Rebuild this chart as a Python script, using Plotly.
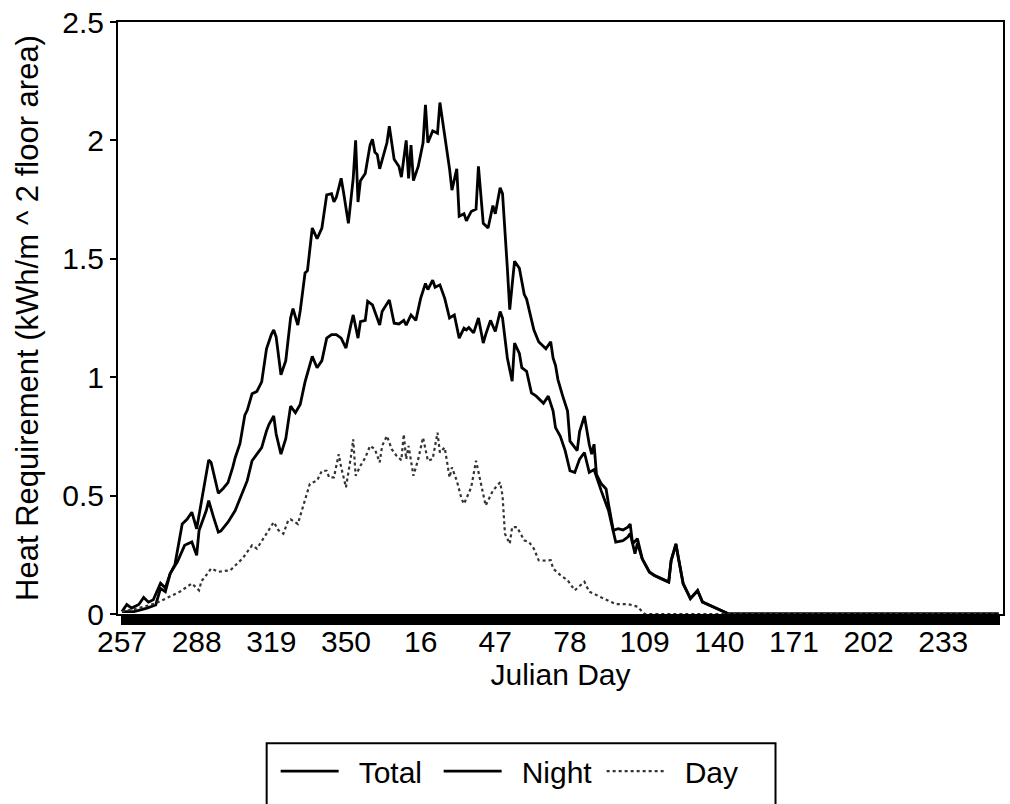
import plotly.graph_objects as go

# Julian day labels of the x axis (season starts on day 257)
julian_days = list(range(257, 366)) + list(range(1, 257))
tick_labels = ["257", "288", "319", "350", "16", "47", "78", "109", "140", "171", "202", "233"]

# Offsets are days after Julian day 257
total_offset = [0, 2, 4, 7, 9, 11, 13, 16, 18, 20, 22, 25, 27, 29, 31, 33, 36, 37, 40, 42, 44, 46, 47, 49,
                51, 52, 54, 56, 58, 60, 62, 63, 64, 66, 68, 70, 71, 73, 74, 76, 77, 79, 81, 83, 85, 87, 88,
                89, 91, 92, 94, 96, 97, 98, 99, 101, 103, 104, 105, 106, 107, 110, 111, 113, 115, 116, 118,
                119, 120, 121, 123, 125, 126, 127, 129, 130, 131, 132, 134, 136, 137, 139, 140, 142, 143,
                145, 147, 148, 150, 152, 154, 155, 157, 158, 160, 161, 162, 163, 165, 167, 168, 170, 171,
                173, 176, 178, 179, 180, 181, 183, 185, 186, 189, 190, 192, 194, 195, 196, 197, 199, 201,
                202, 204, 206, 208, 210, 211, 212, 214, 216, 219, 221, 224, 227, 228, 230, 231, 233, 236,
                239, 241, 244, 248, 252, 364]
total_values = [0.01, 0.04, 0.025, 0.04, 0.07, 0.05, 0.06, 0.13, 0.11, 0.17, 0.21, 0.38, 0.40, 0.43, 0.36,
                0.48, 0.65, 0.64, 0.51, 0.53, 0.555, 0.62, 0.66, 0.72, 0.84, 0.86, 0.93, 0.94, 0.98, 1.12,
                1.18, 1.20, 1.17, 1.01, 1.07, 1.25, 1.29, 1.22, 1.28, 1.44, 1.45, 1.63, 1.585, 1.63, 1.77,
                1.775, 1.74, 1.76, 1.84, 1.78, 1.65, 1.84, 2.00, 1.74, 1.83, 1.86, 1.98, 2.005, 1.95, 1.94,
                1.88, 1.99, 2.06, 1.92, 1.89, 1.845, 2.00, 1.84, 1.98, 1.83, 1.89, 1.99, 2.15, 1.99, 2.04,
                2.035, 2.03, 2.16, 2.03, 1.88, 1.79, 1.88, 1.68, 1.69, 1.66, 1.70, 1.71, 1.89, 1.65, 1.63,
                1.725, 1.69, 1.80, 1.775, 1.46, 1.285, 1.39, 1.49, 1.46, 1.35, 1.33, 1.235, 1.20, 1.15, 1.12,
                1.15, 1.08, 1.05, 0.99, 0.92, 0.857, 0.73, 0.69, 0.77, 0.836, 0.717, 0.675, 0.717, 0.59,
                0.55, 0.528, 0.465, 0.353, 0.36, 0.355, 0.367, 0.38, 0.297, 0.318, 0.234, 0.178, 0.164,
                0.15, 0.136, 0.227, 0.297, 0.24, 0.129, 0.066, 0.10, 0.052, 0.038, 0.017, 0.0, 0.0]

night_offset = [0, 5, 10, 14, 16, 18, 20, 23, 26, 29, 31, 32, 35, 36, 38, 40, 41, 44, 47, 52, 54, 58, 60,
                61, 63, 64, 66, 68, 70, 72, 74, 76, 79, 81, 83, 85, 87, 89, 91, 93, 95, 96, 98, 99, 101,
                102, 104, 107, 108, 111, 113, 115, 117, 118, 120, 122, 124, 126, 127, 129, 130, 132, 134,
                136, 138, 140, 142, 143, 144, 146, 148, 150, 151, 153, 155, 157, 158, 160, 162, 163, 165,
                166, 168, 169, 170, 172, 175, 177, 179, 180, 182, 184, 186, 188, 190, 192, 194, 196, 197,
                199, 202, 205, 208, 210, 211, 213, 214, 216, 219, 221, 224, 227, 228, 230, 231, 233, 236,
                239, 241, 244, 248, 252, 364]
night_values = [0.01, 0.01, 0.024, 0.038, 0.108, 0.094, 0.171, 0.22, 0.29, 0.304, 0.248, 0.353, 0.437,
                0.479, 0.409, 0.346, 0.35, 0.388, 0.437, 0.563, 0.647, 0.703, 0.773, 0.80, 0.836, 0.76,
                0.675, 0.74, 0.878, 0.85, 0.885, 0.98, 1.088, 1.04, 1.07, 1.165, 1.18, 1.18, 1.165, 1.123,
                1.22, 1.263, 1.165, 1.235, 1.24, 1.32, 1.305, 1.22, 1.277, 1.326, 1.228, 1.225, 1.24, 1.22,
                1.263, 1.24, 1.333, 1.396, 1.37, 1.41, 1.38, 1.39, 1.333, 1.25, 1.263, 1.165, 1.207, 1.20,
                1.21, 1.187, 1.25, 1.144, 1.18, 1.24, 1.193, 1.277, 1.25, 1.081, 0.983, 1.144, 1.10, 1.04,
                1.025, 0.98, 0.934, 0.92, 0.89, 0.92, 0.857, 0.787, 0.75, 0.69, 0.605, 0.598, 0.654, 0.682,
                0.598, 0.61, 0.577, 0.52, 0.437, 0.304, 0.31, 0.325, 0.34, 0.255, 0.30, 0.232, 0.176,
                0.162, 0.148, 0.134, 0.224, 0.293, 0.237, 0.127, 0.064, 0.098, 0.05, 0.036, 0.016, 0.0, 0.0]

day_offset = [0, 7, 14, 20, 24, 29, 32, 33, 34, 37, 40, 45, 50, 54, 56, 60, 63, 65, 67, 69, 70, 73, 75, 78,
              81, 83, 85, 86, 88, 90, 91, 93, 95, 96, 97, 99, 101, 103, 105, 107, 108, 110, 112, 114, 116,
              117, 118, 119, 121, 123, 125, 127, 129, 131, 132, 134, 136, 137, 139, 141, 142, 145, 147,
              149, 151, 154, 157, 158, 159, 161, 162, 164, 167, 169, 171, 173, 176, 178, 179, 182, 185,
              188, 192, 194, 197, 202, 205, 210, 214, 217, 364]
day_values = [0.01, 0.025, 0.045, 0.073, 0.094, 0.129, 0.10, 0.14, 0.15, 0.192, 0.178, 0.185, 0.234, 0.29,
              0.276, 0.339, 0.388, 0.353, 0.339, 0.395, 0.40, 0.38, 0.45, 0.55, 0.563, 0.605, 0.605, 0.577,
              0.577, 0.675, 0.62, 0.535, 0.661, 0.738, 0.584, 0.626, 0.66, 0.71, 0.696, 0.64, 0.71, 0.752,
              0.696, 0.668, 0.65, 0.759, 0.654, 0.71, 0.584, 0.654, 0.745, 0.647, 0.655, 0.766, 0.682,
              0.703, 0.577, 0.619, 0.563, 0.486, 0.465, 0.535, 0.647, 0.55, 0.458, 0.521, 0.556, 0.50,
              0.339, 0.297, 0.367, 0.367, 0.311, 0.304, 0.276, 0.227, 0.225, 0.227, 0.192, 0.164, 0.143,
              0.10, 0.136, 0.094, 0.08, 0.059, 0.042, 0.042, 0.031, 0.0, 0.0]

FONT = "Liberation Sans, Arial, Helvetica, sans-serif"
SP = "\u2002"

fig = go.Figure()
fig.add_trace(go.Scatter(x=total_offset, y=total_values, mode="lines", name=SP + "Total",
                         line=dict(color="black", width=2.8)))
fig.add_trace(go.Scatter(x=night_offset, y=night_values, mode="lines", name=SP + "Night",
                         line=dict(color="black", width=2.8)))
fig.add_trace(go.Scatter(x=day_offset, y=day_values, mode="lines", name=SP + "Day",
                         line=dict(color="#333333", width=2.2, dash="dot")))

tickvals = list(range(len(julian_days)))
ticktext = [str(d) if str(d) in tick_labels and i % 31 == 0 else "" for i, d in enumerate(julian_days)]

fig.update_xaxes(range=[-1.66, 365.8], tickmode="array", tickvals=tickvals, ticktext=ticktext,
                 ticks="outside", ticklen=9, tickwidth=2.6, tickcolor="black",
                 ticklabelstandoff=-9,
                 showline=True, linecolor="black", linewidth=2, mirror=True,
                 showgrid=False, zeroline=False,
                 title=dict(text="Julian Day", font=dict(size=30, color="black", family=FONT), standoff=2),
                 tickfont=dict(size=30, color="black", family=FONT))
fig.update_yaxes(range=[0, 2.5], tickvals=[0, 0.5, 1, 1.5, 2, 2.5], ticktext=["0", "0.5", "1", "1.5", "2", "2.5"],
                 ticks="outside", ticklen=6, tickwidth=1.5, tickcolor="black",
                 showline=True, linecolor="black", linewidth=2, mirror=True,
                 showgrid=False, zeroline=False,
                 title=dict(text="Heat Requirement (kWh/m ^ 2 floor area)",
                            font=dict(size=31, color="black", family=FONT), standoff=14),
                 tickfont=dict(size=30, color="black", family=FONT))

fig.add_shape(type="rect", xref="paper", yref="paper",
              x0=(267 - 118) / 887, x1=(777 - 118) / 887,
              y0=(614 - 808) / 595, y1=(614 - 744) / 595,
              line=dict(color="black", width=2), fillcolor="rgba(0,0,0,0)", layer="above")

fig.update_layout(width=1010, height=804, margin=dict(l=118, r=5, t=19, b=190),
                  paper_bgcolor="white", plot_bgcolor="white",
                  font=dict(family=FONT, color="black", size=30),
                  legend=dict(orientation="h", x=(276 - 118) / 887, xanchor="left",
                              y=(614 - 772) / 595, yanchor="middle",
                              font=dict(size=30, family=FONT, color="black"),
                              itemwidth=58, entrywidth=90, entrywidthmode="pixels",
                              bgcolor="rgba(0,0,0,0)", tracegroupgap=0),
                  showlegend=True)

fig.write_html("out.html")
